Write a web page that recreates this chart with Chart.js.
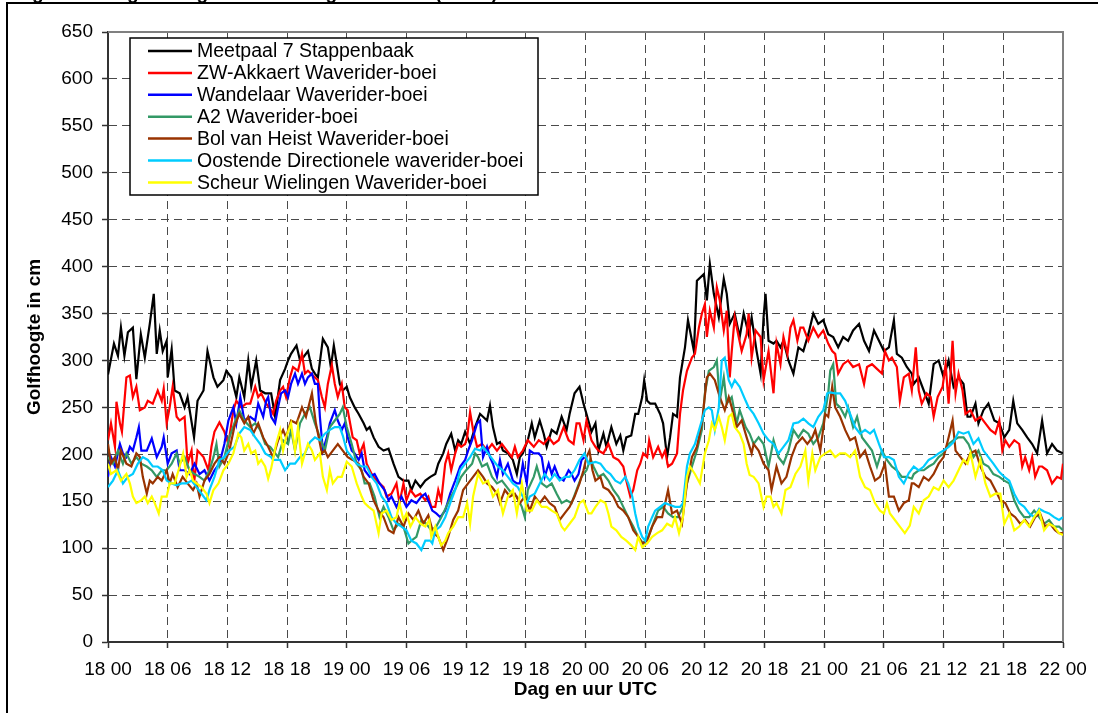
<!DOCTYPE html>
<html>
<head>
<meta charset="utf-8">
<script src="https://cdn.jsdelivr.net/npm/chart.js@4.4.0/dist/chart.umd.min.js"></script>
<style>
html,body{margin:0;padding:0;background:#fff;}
#wrap{width:1098px;height:713px;position:relative;overflow:hidden;}
canvas{display:block;}
</style>
</head>
<body>
<div id="wrap"><canvas id="c" width="1098" height="713"></canvas></div>
<script>
// ---- DATA (hours since 18 00 UTC, wave height in cm) ----
const tickLabels = ["18 00","18 06","18 12","18 18","19 00","19 06","19 12","19 18","20 00","20 06","20 12","20 18","21 00","21 06","21 12","21 18","22 00"];
const seriesNames = ["Meetpaal 7 Stappenbaak","ZW-Akkaert Waverider-boei","Wandelaar Waverider-boei","A2 Waverider-boei","Bol van Heist Waverider-boei","Oostende Directionele waverider-boei","Scheur Wielingen Waverider-boei"];
const seriesColors = ["#000000","#FF0000","#0000FF","#339966","#993300","#00CCFF","#FFFF00"];
const chartTitle = "Significante golfhoogte aan de Belgische kust (in cm)";
const yTitle = "Golfhoogte in cm";
const xTitle = "Dag en uur UTC";

const meetpaal = [[0,285],[0.6,318],[1,305],[1.3,335],[1.65,305],[2,330],[2.5,335],[2.85,280],[3.3,328],[3.7,303],[4.2,339],[4.6,371],[4.9,307],[5.2,332],[5.5,310],[5.9,321],[6,282],[6.4,312],[6.7,268],[7.2,265],[7.7,250],[8,261],[8.65,218],[9,257],[9.6,268],[10,310],[10.6,282],[11,272],[11.6,279],[11.9,289],[12.4,282],[12.9,261],[13.2,282],[13.7,261],[14.1,300],[14.4,272],[14.9,300],[15.3,268],[15.8,265],[16.4,265],[16.8,240],[17.3,279],[17.8,291],[18.1,300],[18.4,307],[18.95,316],[19.3,300],[19.6,303],[20.1,310],[20.5,291],[20.8,286],[21.1,282],[21.6,323],[22.1,314],[22.4,293],[22.7,316],[23,296],[23.3,275],[23.6,268],[24,272],[24.3,261],[24.8,250],[25.2,243],[25.7,233],[26,226],[26.3,229],[26.7,218],[27.2,208],[27.7,204],[28.2,206],[28.7,190],[29.2,176],[29.7,172],[30.2,172],[30.5,162],[30.9,172],[31.4,165],[31.9,172],[32.4,176],[32.9,179],[33.2,190],[33.7,201],[34,211],[34.5,222],[34.9,204],[35.2,215],[35.5,211],[35.9,224],[36.4,211],[36.9,229],[37.4,243],[37.7,240],[38.1,236],[38.4,252],[38.7,229],[39.1,211],[39.4,213],[39.7,204],[40.2,201],[40.7,194],[41.1,179],[41.4,197],[41.7,201],[42.2,215],[42.6,233],[42.9,218],[43.4,236],[43.8,222],[44.1,208],[44.6,226],[45.1,222],[45.6,240],[46.1,226],[46.4,243],[46.9,265],[47.4,272],[47.8,254],[48.1,243],[48.6,224],[49,233],[49.3,204],[49.8,222],[50.1,208],[50.6,229],[51.1,211],[51.5,220],[51.8,204],[52.1,218],[52.6,220],[53,243],[53.3,243],[53.7,261],[53.9,279],[54.2,257],[54.5,254],[55,254],[55.5,243],[55.8,233],[56.2,197],[56.5,218],[56.8,243],[57.2,240],[57.5,282],[58,314],[58.3,343],[58.9,310],[59.2,385],[59.9,392],[60.2,364],[60.5,403],[60.9,371],[61.4,346],[61.9,387],[62.2,371],[62.5,339],[63,350],[63.5,325],[63.9,350],[64.4,328],[64.7,346],[65.2,310],[65.6,286],[65.9,346],[66.1,371],[66.4,321],[66.9,318],[67.2,321],[67.6,314],[67.9,321],[68.4,300],[68.9,286],[69.4,314],[69.9,310],[70.4,328],[70.9,350],[71.4,339],[71.9,343],[72.4,328],[72.9,325],[73.4,314],[73.9,325],[74.4,321],[74.9,332],[75.5,339],[76,321],[76.5,310],[77,332],[77.5,321],[78,310],[78.5,314],[79,343],[79.3,307],[79.8,303],[80.3,293],[80.8,286],[81,275],[81.5,282],[82,268],[82.5,254],[83,296],[83.5,300],[84,282],[84.5,300],[85,272],[85.5,282],[86,275],[86.4,240],[86.7,240],[87.2,254],[87.5,233],[88,247],[88.5,254],[89.1,236],[89.6,233],[90.1,218],[90.6,226],[91,257],[91.4,233],[91.9,226],[92.4,218],[92.9,211],[93.4,201],[93.9,236],[94.4,201],[94.9,211],[95.4,204],[96,201]];

const akkaert = [[0,215],[0.3,233],[0.7,208],[0.85,256],[1.2,233],[1.4,224],[1.85,282],[2.2,284],[2.5,261],[2.85,272],[3.2,247],[3.7,250],[4,257],[4.5,254],[5,268],[5.4,257],[5.6,270],[5.9,233],[6.2,250],[6.5,272],[6.9,240],[7.2,236],[7.7,240],[8,190],[8.4,204],[8.65,169],[9,204],[9.6,197],[10.1,183],[10.4,208],[10.7,224],[11.2,234],[11.7,224],[12.1,211],[12.6,247],[12.9,257],[13.4,250],[13.9,254],[14.3,254],[14.8,272],[15.1,261],[15.4,265],[15.9,254],[16.4,247],[16.6,243],[16.9,257],[17.3,268],[17.6,272],[17.9,261],[18.3,282],[18.6,293],[19.1,289],[19.5,307],[19.8,286],[20.1,289],[20.6,284],[21.1,279],[21.5,261],[21.8,250],[22.1,275],[22.5,295],[22.8,275],[23.1,261],[23.5,275],[23.8,250],[24.1,247],[24.6,218],[25,215],[25.3,201],[25.7,211],[26,190],[26.5,179],[27,172],[27.3,169],[27.7,165],[28,155],[28.5,158],[29,169],[29.3,148],[29.7,169],[30,151],[30.4,162],[30.9,155],[31.4,158],[31.9,151],[32.2,155],[32.5,144],[32.9,144],[33.2,162],[33.5,151],[33.9,190],[34.2,201],[34.5,183],[34.9,201],[35.2,211],[35.5,208],[35.9,211],[36.1,218],[36.4,245],[36.7,226],[37.1,208],[37.6,211],[38.1,204],[38.6,211],[39.1,204],[39.6,211],[40.1,204],[40.6,197],[40.9,208],[41.2,197],[41.7,204],[42.2,215],[42.8,208],[43.3,215],[43.8,211],[44.3,218],[44.8,211],[45.3,215],[45.8,229],[46.3,215],[46.8,211],[47.1,233],[47.4,233],[47.8,215],[48.1,236],[48.6,215],[49,208],[49.3,204],[49.8,201],[50.3,211],[50.8,197],[51.3,194],[51.8,187],[52.1,172],[52.5,155],[52.8,162],[53.2,183],[53.5,190],[53.8,201],[54.2,197],[54.4,215],[54.8,197],[55.3,208],[55.7,197],[56,204],[56.3,187],[56.7,190],[57.2,201],[57.5,243],[57.8,268],[58.2,289],[58.7,303],[59,307],[59.4,335],[59.7,350],[60,360],[60.2,325],[60.5,353],[60.9,335],[61.2,378],[61.5,364],[61.9,332],[62.2,353],[62.5,282],[62.7,310],[63,346],[63.4,325],[63.7,310],[64.2,328],[64.4,350],[64.7,303],[65.1,332],[65.6,325],[65.9,279],[66.4,310],[66.9,265],[67.2,318],[67.6,296],[67.9,325],[68.3,307],[68.6,335],[68.9,343],[69.3,321],[69.6,335],[69.9,335],[70.4,321],[70.9,335],[71.4,325],[71.9,332],[72.4,318],[72.8,310],[73.1,307],[73.4,286],[73.9,296],[74.4,300],[74.9,293],[75.5,296],[76,275],[76.3,293],[76.8,296],[77.3,291],[77.8,286],[78.1,310],[78.5,300],[78.8,303],[79.3,293],[79.6,257],[80,282],[80.5,286],[80.8,268],[81.2,314],[81.5,268],[81.8,254],[82.3,265],[82.7,261],[83,240],[83.4,261],[83.9,272],[84.2,296],[84.5,254],[84.9,321],[85.2,265],[85.5,286],[85.9,268],[86.2,243],[86.7,247],[87.2,236],[87.7,240],[88.2,233],[88.7,226],[89.2,222],[89.6,236],[89.9,204],[90.2,215],[90.6,208],[91.1,215],[91.6,211],[91.9,187],[92.2,197],[92.6,183],[92.9,197],[93.2,176],[93.6,187],[93.9,187],[94.4,183],[94.9,169],[95.4,176],[95.8,174],[96,190]];

const wandelaar = [[0,176],[0.3,197],[0.7,187],[1.2,211],[1.5,201],[1.85,197],[2.2,208],[2.5,204],[2.85,218],[3.1,229],[3.35,204],[3.9,204],[4.4,217],[4.9,197],[5.4,208],[5.6,218],[6,190],[6.4,201],[6.9,204],[7.2,183],[7.7,183],[8.2,179],[8.7,190],[9.2,179],[9.7,183],[10.2,172],[10.7,183],[11.2,190],[11.7,211],[12.1,236],[12.6,250],[12.9,233],[13.3,261],[13.7,236],[14.3,240],[14.8,236],[15.1,254],[15.6,240],[15.9,257],[16.1,261],[16.4,240],[16.8,233],[17.1,250],[17.4,265],[17.8,268],[18.1,261],[18.4,275],[18.8,286],[19.1,275],[19.5,286],[19.8,275],[20.1,282],[20.5,286],[20.8,275],[21.1,275],[21.3,240],[21.6,204],[22,218],[22.3,233],[22.8,247],[23.1,236],[23.5,226],[23.8,233],[24.1,218],[24.5,204],[24.8,201],[25.2,194],[25.5,201],[25.8,183],[26.3,176],[26.8,179],[27.3,169],[27.8,162],[28.2,151],[28.5,155],[29,144],[29.5,155],[30,144],[30.5,151],[31,148],[31.5,155],[31.9,158],[32.3,148],[32.6,140],[33,137],[33.4,133],[33.9,140],[34.4,158],[34.9,172],[35.4,187],[35.9,194],[36.2,204],[36.6,215],[37.1,233],[37.4,236],[37.7,197],[38.1,208],[38.4,197],[38.7,190],[39.1,176],[39.4,194],[39.7,179],[40.2,190],[40.7,172],[41.1,169],[41.4,169],[41.7,190],[42.1,169],[42.4,204],[42.8,201],[43.3,201],[43.6,197],[43.9,176],[44.3,190],[44.6,179],[44.9,187],[45.3,176],[45.8,172],[46.3,183],[46.6,179],[46.9,172],[47.3,179],[47.6,194],[47.9,197]];

const a2 = [[0,197],[0.5,190],[1,204],[1.5,190],[1.85,201],[2.35,190],[2.85,197],[3.35,190],[3.9,187],[4.4,183],[4.9,176],[5.4,183],[5.9,183],[6.4,190],[6.9,201],[7.2,190],[7.7,197],[8.2,183],[8.7,179],[9.2,176],[9.7,172],[10.2,183],[10.6,197],[10.9,211],[11.2,187],[11.7,197],[12.2,218],[12.7,233],[13.2,247],[13.7,236],[14.3,229],[14.8,233],[15.3,226],[15.8,211],[16.3,208],[16.6,204],[17.1,197],[17.6,215],[18.1,211],[18.4,226],[18.8,204],[19.3,233],[19.8,243],[20.3,250],[20.8,233],[21.3,218],[21.8,204],[22.3,229],[22.8,236],[23.3,243],[23.6,250],[24,229],[24.5,211],[25,190],[25.5,183],[25.8,169],[26.3,169],[26.8,155],[27.3,133],[27.7,144],[28.2,133],[28.7,119],[29.2,126],[29.7,123],[30.2,105],[30.5,108],[31,112],[31.5,130],[32,126],[32.5,119],[33,123],[33.5,133],[34,144],[34.5,155],[35,165],[35.5,176],[36,183],[36.6,190],[36.9,201],[37.2,197],[37.6,187],[38.1,190],[38.6,176],[39.1,169],[39.6,172],[40.1,165],[40.6,158],[41.1,155],[41.6,144],[41.9,133],[42.2,162],[42.8,176],[43.1,187],[43.6,169],[44.1,165],[44.6,169],[45.1,158],[45.6,148],[46.1,151],[46.6,148],[47.1,162],[47.6,176],[48.1,183],[48.5,195],[48.8,187],[49.3,176],[49.8,179],[50.3,172],[50.8,162],[51.3,155],[51.8,144],[52.3,133],[52.8,123],[53.3,112],[53.8,105],[54.3,112],[54.8,126],[55.3,140],[55.8,144],[56.3,137],[56.8,133],[57.3,133],[57.8,144],[58.2,169],[58.7,187],[59.2,204],[59.7,226],[60,265],[60.4,289],[60.9,293],[61.2,300],[61.5,257],[61.9,282],[62.2,254],[62.7,261],[63.2,233],[63.5,247],[64.1,229],[64.5,222],[64.9,211],[65.4,218],[65.9,211],[66.4,187],[66.9,215],[67.4,197],[67.9,190],[68.4,204],[68.9,226],[69.4,218],[69.9,226],[70.4,222],[70.9,211],[71.4,218],[71.9,233],[72.4,265],[72.6,289],[72.9,296],[73.2,254],[73.6,250],[74.1,240],[74.4,250],[74.9,229],[75.3,240],[75.8,218],[76.3,211],[76.8,204],[77.3,187],[77.8,204],[78.3,194],[78.8,187],[79.3,183],[79.8,176],[80.3,176],[80.8,174],[81,179],[81.5,183],[82,183],[82.5,187],[83,190],[83.5,197],[84,201],[84.5,211],[85,215],[85.5,218],[86,218],[86.5,211],[87,197],[87.5,204],[88,190],[88.5,187],[89,179],[89.6,176],[90.1,172],[90.6,169],[91.1,151],[91.6,140],[92.1,133],[92.6,133],[93.1,140],[93.6,133],[94.1,126],[94.6,130],[95.1,123],[95.6,123],[96,119]];

const bolVanHeist = [[0,211],[0.3,190],[0.7,197],[1,183],[1.3,204],[1.85,190],[2.35,187],[2.85,201],[3.2,197],[3.5,176],[3.9,158],[4.2,172],[4.5,169],[5,176],[5.4,172],[5.9,183],[6.2,169],[6.5,179],[7,165],[7.5,176],[8,169],[8.55,162],[8.9,169],[9.2,155],[9.7,172],[10.2,179],[10.7,190],[11.2,197],[11.7,190],[12.2,204],[12.7,229],[13.2,243],[13.7,233],[14.1,240],[14.6,222],[15.1,233],[15.6,218],[16.1,208],[16.6,197],[17.1,215],[17.6,226],[17.9,218],[18.4,236],[18.95,233],[19.5,250],[19.9,240],[20.5,265],[20.9,233],[21.5,201],[21.8,204],[22.1,197],[22.6,204],[23.1,211],[23.6,204],[24.1,197],[24.6,194],[25.2,190],[25.7,176],[26.2,169],[26.7,151],[27.2,140],[27.7,133],[28.2,119],[28.7,116],[29.2,133],[29.7,123],[30.2,137],[30.7,130],[31.2,140],[31.7,126],[32.2,135],[32.7,116],[33.2,112],[33.7,98],[34.2,112],[34.7,130],[35.2,140],[35.7,162],[36.2,169],[36.7,176],[37.2,183],[37.7,176],[38.1,169],[38.6,165],[39.1,158],[39.4,148],[39.9,162],[40.4,155],[40.9,158],[41.4,148],[41.9,155],[42.4,140],[42.9,155],[43.4,148],[43.9,155],[44.4,148],[44.9,144],[45.4,130],[45.9,137],[46.4,144],[46.9,155],[47.4,169],[47.8,183],[48.1,197],[48.4,204],[48.7,183],[49,172],[49.5,176],[49.8,165],[50.3,162],[50.8,155],[51.3,144],[51.8,140],[52.3,133],[52.8,119],[53.3,112],[53.7,105],[54.2,108],[54.7,123],[55.2,133],[55.7,133],[56.3,162],[56.7,137],[57.2,140],[57.7,126],[58.2,169],[58.7,197],[59.2,208],[59.7,233],[60.2,282],[60.5,286],[61,279],[61.5,261],[62,247],[62.4,261],[62.7,250],[63.2,229],[63.7,236],[64.2,218],[64.7,201],[64.9,211],[65.4,204],[65.9,190],[66.4,183],[66.7,162],[67.2,187],[67.7,169],[68.2,176],[68.7,197],[69.2,211],[69.8,218],[70.3,211],[70.8,218],[71.1,226],[71.6,204],[72.1,243],[72.4,240],[72.8,272],[73.1,250],[73.6,240],[74.1,226],[74.6,215],[75.1,218],[75.6,197],[76.1,204],[76.6,187],[77.1,172],[77.6,176],[78.1,190],[78.5,155],[79,155],[79.5,140],[80,148],[80.5,151],[80.8,169],[81,169],[81.5,165],[82,176],[82.5,172],[83,179],[83.5,190],[84,197],[84.5,218],[84.9,236],[85.2,204],[85.7,197],[86.2,190],[86.7,201],[87.2,204],[87.7,187],[88.2,176],[88.7,172],[89.2,162],[89.7,151],[90.2,148],[90.7,137],[91.2,133],[91.7,126],[92.2,130],[92.7,123],[93.2,133],[93.7,137],[94.2,123],[94.7,126],[95.2,119],[95.6,116],[96,116]];

const oostende = [[0,165],[0.5,172],[1,183],[1.5,169],[2,176],[2.5,179],[3,190],[3.5,197],[4,194],[4.5,187],[5,187],[5.5,183],[5.9,172],[6.4,169],[6.9,167],[7.4,169],[7.9,169],[8.4,172],[8.9,165],[9.4,158],[9.9,151],[10.2,162],[10.7,176],[11.2,194],[11.7,197],[12.2,204],[12.7,208],[13.2,222],[13.7,229],[14.3,226],[14.8,218],[15.3,211],[15.8,201],[16.4,197],[16.6,194],[17.3,194],[17.8,183],[18.3,190],[18.8,190],[19.3,197],[19.8,201],[20.3,213],[20.8,218],[21.3,215],[21.8,222],[22.3,226],[22.8,229],[23.3,229],[23.6,220],[24,204],[24.5,197],[25,190],[25.5,187],[26,187],[26.5,176],[27,169],[27.5,155],[28,148],[28.5,133],[29,126],[29.5,123],[30,119],[30.5,108],[31,105],[31.5,98],[31.9,108],[32.4,108],[32.6,105],[32.9,119],[33.4,123],[33.9,133],[34.4,148],[34.9,162],[35.4,183],[35.9,190],[36.4,197],[36.9,206],[37.4,204],[37.7,208],[38.2,201],[38.7,194],[39.2,187],[39.7,183],[40.2,176],[40.7,169],[41.2,165],[41.7,155],[42.1,148],[42.4,155],[42.9,158],[43.4,169],[43.9,179],[44.4,172],[44.9,179],[45.4,172],[45.9,176],[46.4,176],[46.9,183],[47.4,194],[47.9,201],[48.3,190],[49,192],[49.5,190],[50,183],[50.5,179],[51,172],[51.5,169],[52,176],[52.3,169],[52.7,155],[53,137],[53.3,123],[53.7,112],[54,108],[54.3,123],[54.7,133],[55,140],[55.5,144],[56,148],[56.5,146],[57,144],[57.5,144],[57.8,148],[58.2,187],[58.5,201],[59,211],[59.5,229],[60,247],[60.4,250],[60.7,247],[61,226],[61.4,250],[61.7,300],[62,303],[62.4,279],[62.7,272],[63,279],[63.5,272],[64.1,257],[64.4,250],[64.9,243],[65.4,233],[65.9,222],[66.4,215],[66.9,211],[67.4,201],[67.9,208],[68.4,215],[68.9,233],[69.4,234],[69.9,238],[70.4,233],[70.9,229],[71.4,240],[71.9,247],[72.3,265],[72.6,266],[73.1,265],[73.6,265],[74.1,257],[74.6,243],[75.1,229],[75.6,222],[76.1,226],[76.6,222],[77,226],[77.5,211],[78,197],[78.5,197],[79,194],[79.5,176],[80,169],[80.5,180],[81,187],[81.5,183],[82,187],[82.5,194],[83,197],[83.5,201],[84,204],[84.5,208],[85,213],[85.5,224],[86,222],[86.5,224],[87,211],[87.5,217],[88,204],[88.5,197],[89,190],[89.6,181],[90.1,176],[90.6,172],[91.1,158],[91.6,148],[92.1,144],[92.6,137],[93.1,133],[93.6,142],[94.1,139],[94.6,137],[95.1,133],[95.6,130],[96,133]];

const scheur = [[0,190],[0.3,179],[0.85,183],[1.3,172],[1.85,179],[2.2,169],[2.5,155],[2.85,148],[3.35,151],[3.7,155],[4,148],[4.4,155],[4.7,148],[5.1,137],[5.4,155],[5.9,155],[6.2,169],[6.7,169],[7.2,187],[7.55,201],[7.9,176],[8.2,183],[8.55,172],[8.9,169],[9.4,165],[9.9,158],[10.2,148],[10.6,162],[11.1,169],[11.6,183],[12.1,190],[12.6,201],[13.1,222],[13.4,218],[13.7,204],[14.1,211],[14.4,201],[14.8,204],[15.1,190],[15.4,194],[15.8,187],[16.1,174],[16.4,185],[16.9,211],[17.3,226],[17.6,204],[17.9,218],[18.4,233],[18.8,204],[19.1,229],[19.5,190],[19.8,201],[20.1,211],[20.5,204],[20.8,194],[21.3,201],[21.6,176],[22,162],[22.3,183],[22.6,169],[23.1,176],[23.5,176],[24,192],[24.5,187],[25,169],[25.5,155],[25.8,148],[26.2,144],[26.7,140],[27.2,116],[27.5,137],[28,140],[28.5,130],[29,133],[29.3,148],[29.7,130],[30,137],[30.4,123],[30.9,133],[31.4,126],[31.9,123],[32.3,130],[32.5,112],[32.9,123],[33.2,112],[33.5,103],[33.9,108],[34.2,116],[34.7,123],[35.2,133],[35.7,133],[36.1,148],[36.4,126],[36.7,155],[37.2,179],[37.7,169],[38.2,172],[38.7,155],[39.2,162],[39.7,137],[40.2,155],[40.7,162],[41.1,137],[41.6,169],[42.1,140],[42.6,140],[43.1,151],[43.6,144],[44.1,144],[44.6,140],[45.1,137],[45.6,123],[45.9,119],[46.4,126],[46.9,133],[47.4,148],[47.8,151],[48.3,137],[48.6,137],[49,144],[49.5,151],[50,148],[50.3,137],[50.6,123],[51.1,119],[51.6,112],[52.1,108],[52.6,103],[53,98],[53.3,112],[53.7,101],[54.2,105],[54.7,112],[55.2,116],[55.7,119],[56.2,126],[56.7,123],[57,133],[57.4,116],[57.8,133],[58.2,176],[58.5,187],[59,179],[59.5,169],[60,201],[60.4,215],[60.7,233],[61,226],[61.4,240],[61.7,229],[62,215],[62.4,240],[62.7,243],[63,229],[63.5,222],[63.9,211],[64.2,190],[64.5,178],[64.9,176],[65.4,169],[65.9,144],[66.2,155],[66.6,155],[66.9,144],[67.2,148],[67.7,137],[68.1,162],[68.6,165],[69.1,179],[69.6,187],[70.1,204],[70.4,172],[70.8,201],[71.1,183],[71.6,197],[72.1,201],[72.6,204],[73.1,197],[73.6,201],[74.1,201],[74.6,197],[75.1,204],[75.6,176],[76.1,165],[76.6,162],[77.1,148],[77.6,140],[78,137],[78.3,148],[78.6,137],[79.1,130],[79.6,123],[80.1,116],[80.6,124],[81,144],[81.5,137],[82,151],[82.5,155],[83,165],[83.5,162],[84,172],[84.5,165],[85,172],[85.5,183],[86,194],[86.4,190],[86.7,201],[87.2,176],[87.7,194],[88.2,169],[88.7,155],[89.2,158],[89.7,158],[90.1,126],[90.6,137],[91.1,119],[91.6,123],[92.1,130],[92.6,123],[93.1,133],[93.6,140],[94.1,119],[94.6,126],[95.1,123],[95.6,116],[96,114]];

const allSeries = [meetpaal, akkaert, wandelaar, a2, bolVanHeist, oostende, scheur];

// ---- LAYOUT CONSTANTS ----
const FONT = '"Liberation Sans", Arial, Helvetica, sans-serif';
const PLOT = {left:108, top:32, right:1063, bottom:642};

const framePlugin = {
  id:'frame',
  beforeDraw(chart){
    const ctx = chart.ctx;
    ctx.save();
    ctx.fillStyle = '#fff';
    ctx.fillRect(0,0,chart.width,chart.height);
    // chart title (mostly cut off at top edge)
    ctx.fillStyle = '#000';
    ctx.font = 'bold 19px ' + FONT;
    ctx.textAlign = 'left';
    ctx.textBaseline = 'alphabetic';
    ctx.fillText(chartTitle, 14, -1.5);
    // outer chart border
    ctx.strokeStyle = '#000';
    ctx.lineWidth = 2;
    ctx.strokeRect(7, 3, 1200, 800);
    ctx.restore();
  },
  beforeDatasetsDraw(chart){
    const ctx = chart.ctx, a = chart.chartArea;
    ctx.save();
    ctx.strokeStyle = '#808080';
    ctx.lineWidth = 2;
    ctx.beginPath();
    ctx.moveTo(a.left, a.top);
    ctx.lineTo(a.right, a.top);
    ctx.lineTo(a.right, a.bottom);
    ctx.stroke();
    ctx.restore();
  },
  afterDatasetsDraw(chart){
    const ctx = chart.ctx;
    ctx.save();
    // legend box
    const bx = 130, by = 38, bw = 408, bh = 157;
    ctx.fillStyle = '#fff';
    ctx.fillRect(bx, by, bw, bh);
    ctx.strokeStyle = '#000';
    ctx.lineWidth = 1.5;
    ctx.strokeRect(bx, by, bw, bh);
    ctx.font = '19.5px ' + FONT;
    ctx.textBaseline = 'middle';
    ctx.textAlign = 'left';
    chart.data.datasets.forEach((ds, i) => {
      const y = 51 + i * 21.9;
      ctx.strokeStyle = ds.borderColor;
      ctx.lineWidth = 2.5;
      ctx.beginPath();
      ctx.moveTo(148, y);
      ctx.lineTo(192, y);
      ctx.stroke();
      ctx.fillStyle = '#000';
      ctx.fillText(ds.label, 197, y + 1);
    });
    ctx.restore();
  },
  afterDraw(chart){
    const ctx = chart.ctx;
    ctx.save();
    ctx.fillStyle = '#000';
    ctx.font = 'bold 19px ' + FONT;
    ctx.textAlign = 'center';
    ctx.textBaseline = 'middle';
    ctx.fillText(xTitle, (PLOT.left + PLOT.right) / 2, 690);
    ctx.translate(35, (PLOT.top + PLOT.bottom) / 2);
    ctx.rotate(-Math.PI / 2);
    ctx.fillText(yTitle, 0, 0);
    ctx.restore();
  }
};

const datasets = allSeries.map((s, i) => ({
  label: seriesNames[i],
  data: s.map(p => ({x: p[0], y: p[1]})),
  borderColor: seriesColors[i],
  backgroundColor: seriesColors[i],
  borderWidth: 2.2,
  pointRadius: 0,
  tension: 0,
  fill: false,
  order: allSeries.length - 1 - i
}));

const gridOpts = {
  color: '#4a4a4a',
  lineWidth: 1,
  tickLength: 6,
  tickColor: '#333',
  tickWidth: 1.5,
  drawOnChartArea: true
};

new Chart(document.getElementById('c'), {
  type: 'line',
  data: { datasets },
  plugins: [framePlugin],
  options: {
    responsive: false,
    devicePixelRatio: 1,
    animation: false,
    events: [],
    layout: { padding: {left: 0, top: PLOT.top, right: 1098 - PLOT.right, bottom: 0}, autoPadding: false },
    plugins: { legend: {display: false}, tooltip: {enabled: false}, title: {display: false} },
    scales: {
      x: {
        type: 'linear',
        min: 0, max: 96,
        ticks: {
          stepSize: 6, autoSkip: false, maxRotation: 0, minRotation: 0,
          color: '#000', padding: 10,
          font: {family: FONT, size: 19},
          callback: (v) => tickLabels[Math.round(v / 6)]
        },
        grid: gridOpts,
        border: {display: true, color: '#333', width: 2, dash: [8, 5]},
        afterFit(scale){ scale.height = 713 - PLOT.bottom; scale.paddingLeft = 0; scale.paddingRight = 0; }
      },
      y: {
        type: 'linear',
        min: 0, max: 650,
        ticks: {
          stepSize: 50, autoSkip: false,
          color: '#000', padding: 9,
          font: {family: FONT, size: 19}
        },
        grid: gridOpts,
        border: {display: true, color: '#333', width: 2, dash: [8, 5]},
        afterFit(scale){ scale.width = PLOT.left; scale.paddingTop = 0; scale.paddingBottom = 0; }
      }
    }
  }
});
</script>
</body>
</html>
